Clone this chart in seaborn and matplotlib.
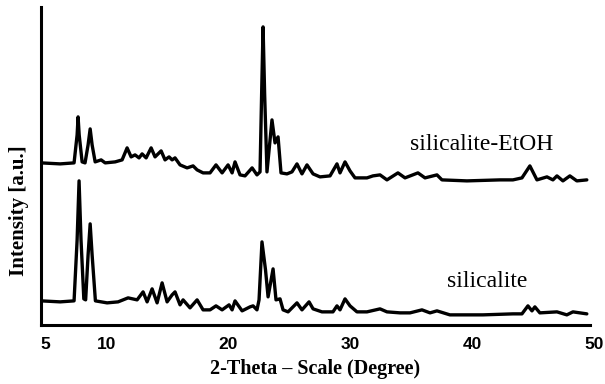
import seaborn as sns
import matplotlib.pyplot as plt
import matplotlib.transforms as mtransforms
import pandas as pd

# 2-theta (degree) and intensity (a.u.)
theta_etoh = [5.0, 6.56, 7.70, 7.95, 8.03, 8.12, 8.36, 8.60, 8.85, 9.02, 9.18, 9.43,
              9.92, 10.25, 11.07, 11.64, 12.05, 12.38, 12.70, 13.03, 13.28, 13.61,
              14.02, 14.34, 14.84, 15.16, 15.49, 15.74, 15.98, 16.39, 16.97, 17.46,
              17.79, 18.28, 18.85, 19.34, 19.84, 20.33, 20.66, 20.90, 21.31, 21.72,
              22.30, 22.70, 22.95, 23.08, 23.20, 23.33, 23.52, 23.93, 24.18, 24.43,
              24.67, 25.16, 25.57, 25.98, 26.39, 26.80, 27.30, 27.87, 28.69, 29.26,
              29.51, 29.92, 30.33, 30.74, 31.72, 32.21, 32.79, 33.36, 34.26, 34.84,
              35.90, 36.48, 37.46, 37.87, 39.92, 42.62, 43.69, 44.43, 45.08, 45.66,
              46.48, 46.97, 47.30, 47.79, 48.36, 48.93, 49.75]
int_etoh = [162, 161, 162, 190, 208, 190, 163, 162, 180, 196, 180, 163,
            165, 162, 163, 165, 177, 168, 170, 167, 171, 167,
            177, 168, 174, 165, 168, 165, 167, 160, 157, 159,
            155, 152, 152, 160, 152, 160, 152, 163, 150, 149,
            157, 150, 153, 230, 298, 230, 153, 205, 182, 188,
            152, 151, 153, 161, 151, 160, 151, 148, 149, 161,
            152, 163, 154, 147, 147, 149, 150, 145, 152, 147,
            152, 147, 150, 145, 144, 145, 145, 147, 159, 145,
            148, 145, 149, 144, 149, 144, 145]

theta_sil = [5.0, 6.56, 7.70, 7.95, 8.11, 8.27, 8.50, 8.65, 8.85, 9.02, 9.18, 9.45,
             10.41, 11.31, 12.13, 12.87, 13.36, 13.69, 14.10, 14.51, 14.92, 15.33,
             15.74, 15.98, 16.39, 16.64, 17.21, 17.79, 18.28, 18.85, 19.34, 19.84,
             20.41, 20.66, 20.90, 21.48, 22.13, 22.38, 22.70, 22.87, 23.11, 23.40,
             23.61, 24.02, 24.26, 24.59, 24.84, 25.25, 25.98, 26.39, 26.97, 27.30,
             28.03, 28.93, 29.26, 29.51, 29.92, 30.33, 30.90, 31.72, 32.79, 33.36,
             34.43, 35.25, 36.23, 36.89, 37.46, 38.52, 41.23, 43.69, 44.43, 44.92,
             45.25, 45.49, 45.90, 47.30, 48.11, 48.61, 49.75]
int_sil = [24, 23, 24, 85, 144, 85, 26, 25, 70, 101, 70, 24,
           22, 23, 27, 25, 33, 23, 36, 22, 42, 23,
           30, 33, 20, 25, 17, 25, 15, 15, 19, 15,
           20, 15, 24, 14, 18, 19, 15, 25, 83, 55,
           28, 56, 25, 26, 15, 13, 22, 15, 23, 16,
           13, 13, 19, 15, 26, 19, 13, 13, 16, 13,
           12, 12, 15, 12, 14, 10, 10, 11, 11, 19,
           14, 18, 12, 13, 10, 13, 11]

samples = ["silicalite-EtOH", "silicalite"]

df = pd.concat([
    pd.DataFrame({"theta": theta_etoh, "intensity": int_etoh, "sample": samples[0]}),
    pd.DataFrame({"theta": theta_sil, "intensity": int_sil, "sample": samples[1]}),
])

sns.set_style("white")
plt.rcParams["font.family"] = ["Liberation Serif", "DejaVu Serif"]
plt.rcParams["text.color"] = "black"
plt.rcParams["axes.labelcolor"] = "black"

fig = plt.figure(figsize=(6.05, 3.84), dpi=100)
ax = fig.add_axes([0.068, 0.154, 0.907, 0.828])

sns.lineplot(data=df, x="theta", y="intensity", hue="sample", units="sample",
             estimator=None, sort=False, palette=["black", "black"],
             linewidth=2.4, legend=False, ax=ax)

ax.set_xlim(5, 50)
ax.set_ylim(0, 318)
ax.set_xticks([5, 10, 20, 30, 40, 50])
ax.set_yticks([])

for side in ["top", "right"]:
    ax.spines[side].set_visible(False)
for side in ["left", "bottom"]:
    ax.spines[side].set_linewidth(2.2)
    ax.spines[side].set_color("black")

ax.tick_params(axis="x", direction="out", length=3, width=0.8, color="#cccccc",
               labelcolor="black", pad=6)
shift = mtransforms.ScaledTranslation(4 / 100, 0, fig.dpi_scale_trans)
for lab in ax.get_xticklabels():
    lab.set_fontfamily("Liberation Sans")
    lab.set_fontweight("bold")
    lab.set_fontsize(12.5)
    lab.set_transform(lab.get_transform() + shift)

ax.set_xlabel("2-Theta \u2013 Scale (Degree)", fontsize=14.5, fontweight="bold", labelpad=5)
ax.set_ylabel("Intensity [a.u.]", fontsize=15, fontweight="bold")
ax.yaxis.set_label_coords(-0.022, 0.36)

ax.text(41.15, 180, samples[0], fontsize=17, ha="center", va="center")
ax.text(41.6, 43, samples[1], fontsize=17, ha="center", va="center")

fig.savefig("out.png", dpi=100)
